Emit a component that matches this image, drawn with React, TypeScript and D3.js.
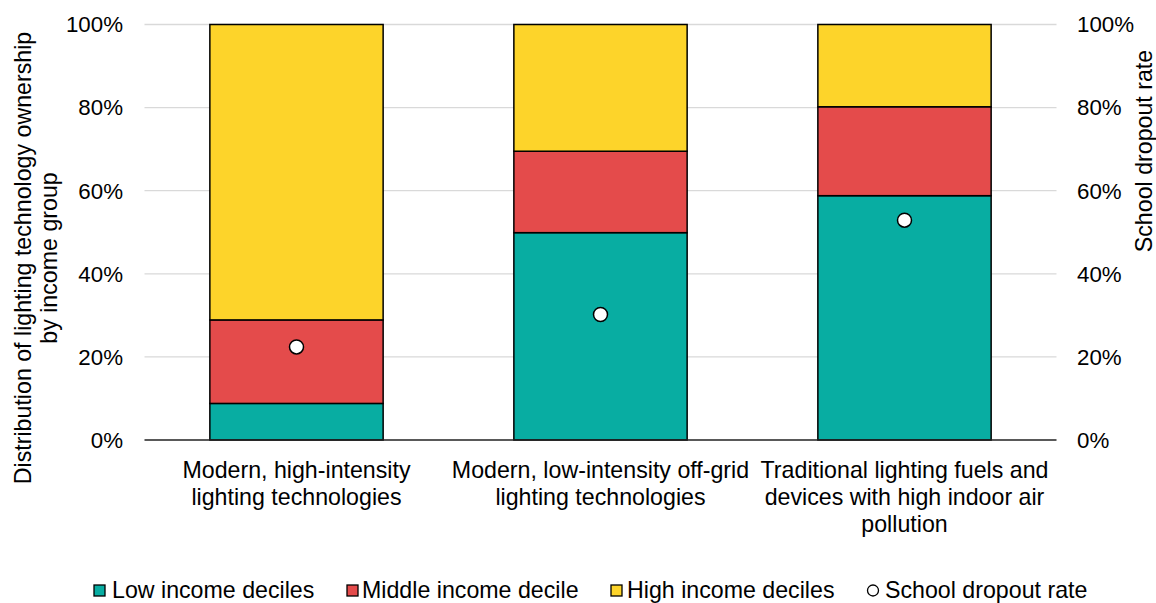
import React from "react";
import * as d3 from "d3";

const categories: string[][] = [
  ["Modern, high-intensity", "lighting technologies"],
  ["Modern, low-intensity off-grid", "lighting technologies"],
  ["Traditional lighting fuels and", "devices with high indoor air", "pollution"],
];
const lowIncome = [8.8, 49.9, 58.8];
const middleIncome = [20.1, 19.6, 21.4];
const highIncome = [71.1, 30.5, 19.8];
const dropoutRate = [22.4, 30.2, 52.9];
const yTicks = [0, 20, 40, 60, 80, 100];
const seriesNames = ["Low income deciles", "Middle income decile", "High income deciles"];
const legendDot = "School dropout rate";
const colors = ["#08ADA2", "#E44B4B", "#FDD42A"];

const W = 1156;
const H = 603;
const FONT = "Liberation Sans, Arial, sans-serif";
const FS = 23.2;
const TFS = 22.3;

export default function App() {
  const keys = categories.map((c) => c.join(" "));
  const x = d3
    .scaleBand<string>()
    .domain(keys)
    .range([144.5, 1056.5])
    .paddingInner(0.43)
    .paddingOuter(0.215);
  const y = d3.scaleLinear().domain([0, 100]).range([440, 24.5]);

  const rows = keys.map((k, i) => ({ k, low: lowIncome[i], mid: middleIncome[i], high: highIncome[i] }));
  const stack = d3.stack<any>().keys(["low", "mid", "high"])(rows);

  const legendItems = [
    { x: 94, tx: 112, label: seriesNames[0], color: colors[0], type: "rect" },
    { x: 347, tx: 362, label: seriesNames[1], color: colors[1], type: "rect" },
    { x: 611, tx: 627, label: seriesNames[2], color: colors[2], type: "rect" },
    { x: 867, tx: 885, label: legendDot, color: "#fff", type: "circle" },
  ];

  return (
    <svg width={W} height={H} style={{ position: "absolute", left: 0, top: 0 }} fontFamily={FONT}>
      <rect width={W} height={H} fill="#fff" />
      {yTicks.map((t) => (
        <g key={t}>
          {t > 0 && (
            <line x1={144.5} x2={1056.5} y1={y(t)} y2={y(t)} stroke="#D9D9D9" strokeWidth={1.3} />
          )}
          <text x={123} y={y(t)} dy="0.35em" textAnchor="end" fontSize={TFS} fill="#000">
            {t}%
          </text>
          <text x={1077} y={y(t)} dy="0.35em" textAnchor="start" fontSize={TFS} fill="#000">
            {t}%
          </text>
        </g>
      ))}
      {stack.map((s, si) =>
        s.map((d, i) => (
          <rect
            key={si + "-" + i}
            x={x(keys[i])}
            width={x.bandwidth()}
            y={y(d[1])}
            height={y(d[0]) - y(d[1])}
            fill={colors[si]}
            stroke="#000"
            strokeWidth={1.5}
          />
        ))
      )}
      <line x1={144.5} x2={1056.5} y1={y(0)} y2={y(0)} stroke="#222" strokeWidth={1.6} />
      {dropoutRate.map((v, i) => (
        <circle
          key={i}
          cx={(x(keys[i]) as number) + x.bandwidth() / 2}
          cy={y(v)}
          r={7}
          fill="#fff"
          stroke="#000"
          strokeWidth={1.5}
        />
      ))}
      {categories.map((lines, i) => (
        <text
          key={i}
          x={(x(keys[i]) as number) + x.bandwidth() / 2}
          y={478}
          textAnchor="middle"
          fontSize={FS}
          fill="#000"
        >
          {lines.map((l, j) => (
            <tspan key={j} x={(x(keys[i]) as number) + x.bandwidth() / 2} dy={j === 0 ? 0 : 27}>
              {l}
            </tspan>
          ))}
        </text>
      ))}
      <text transform="translate(31,258) rotate(-90)" textAnchor="middle" fontSize={FS} fill="#000">
        <tspan x={0} dy={0}>Distribution of lighting technology ownership</tspan>
        <tspan x={0} dy={26}>by income group</tspan>
      </text>
      <text transform="translate(1152,151) rotate(-90)" textAnchor="middle" fontSize={FS} fill="#000">
        School dropout rate
      </text>
      {legendItems.map((it, i) => (
        <g key={i}>
          {it.type === "rect" ? (
            <rect x={it.x} y={585} width={11} height={11} fill={it.color} stroke="#000" strokeWidth={1.3} />
          ) : (
            <circle cx={it.x + 6} cy={590.5} r={5.5} fill="#fff" stroke="#000" strokeWidth={1.3} />
          )}
          <text x={it.tx} y={598} fontSize={FS} fill="#000">
            {it.label}
          </text>
        </g>
      ))}
    </svg>
  );
}
